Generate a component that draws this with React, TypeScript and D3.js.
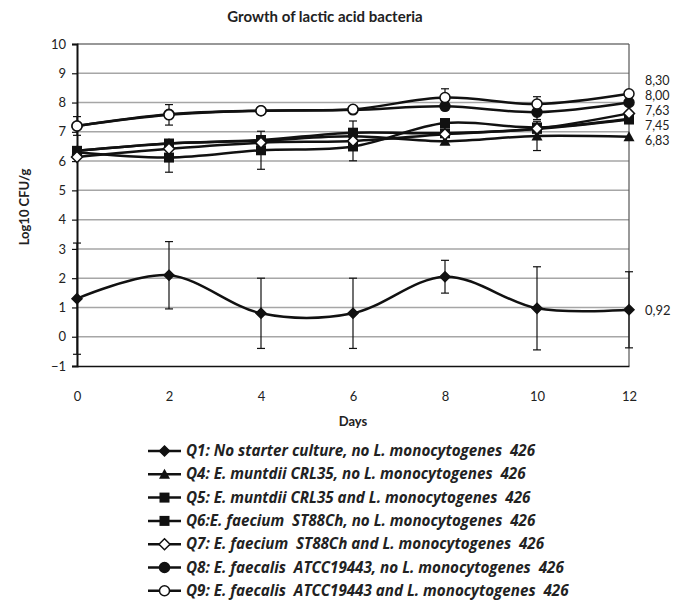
import React, { useEffect, useRef } from 'react';
import * as d3 from 'd3';

const days = [0, 2, 4, 6, 8, 10, 12];
const yTicks = [-1, 0, 1, 2, 3, 4, 5, 6, 7, 8, 9, 10];

const seriesNames = [
  'Q1: No starter culture, no L. monocytogenes  426',
  'Q4: E. muntdii CRL35, no L. monocytogenes  426',
  'Q5: E. muntdii CRL35 and L. monocytogenes  426',
  'Q6:E. faecium  ST88Ch, no L. monocytogenes  426',
  'Q7: E. faecium  ST88Ch and L. monocytogenes  426',
  'Q8: E. faecalis  ATCC19443, no L. monocytogenes  426',
  'Q9: E. faecalis  ATCC19443 and L. monocytogenes  426',
];
const seriesMarkers = ['diamond', 'triangle', 'square', 'square', 'diamondOpen', 'circle', 'circleOpen'];

const q1 = [1.3, 2.1, 0.8, 0.8, 2.05, 0.97, 0.92];
const q4 = [6.35, 6.6, 6.7, 6.85, 6.68, 6.86, 6.83];
const q5 = [6.3, 6.12, 6.37, 6.5, 7.3, 7.15, 7.45];
const q6 = [6.35, 6.6, 6.72, 6.97, 6.95, 7.1, 7.42];
const q7 = [6.14, 6.42, 6.63, 6.69, 6.92, 7.11, 7.63];
const q8 = [7.2, 7.6, 7.72, 7.75, 7.87, 7.67, 8.0];
const q9 = [7.2, 7.58, 7.72, 7.77, 8.17, 7.95, 8.3];
const seriesValues = [q1, q4, q5, q6, q7, q8, q9];

const q1Err = [1.9, 1.15, 1.2, 1.2, 0.56, 1.42, 1.3];
const q4Err = [0, 0, 0, 0, 0, 0.5, 0];
const q5Err = [0, 0.5, 0.65, 0, 0, 0, 0];
const q6Err = [0, 0, 0, 0, 0, 0, 0];
const q7Err = [0, 0, 0, 0.68, 0, 0, 0];
const q8Err = [0, 0, 0, 0, 0, 0.25, 0];
const q9Err = [0.32, 0.35, 0, 0, 0.3, 0.25, 0];
const seriesErrors = [q1Err, q4Err, q5Err, q6Err, q7Err, q8Err, q9Err];

const endLabels = ['8,30', '8,00', '7,63', '7,45', '6,83'];
const q1EndLabel = '0,92';

const FONT = 'Lato, "Open Sans", sans-serif';
const LEGEND_FONT = '"Open Sans", Lato, sans-serif';

const App = () => {
  const ref = useRef<SVGSVGElement>(null);

  useEffect(() => {
    const width = 689;
    const height = 601;
    const margin = { top: 44, left: 77, right: 60, bottom: 235 };

    const svg = d3.select(ref.current);
    svg.selectAll('*').remove();
    svg.attr('width', width).attr('height', height);

    const x = d3.scaleLinear().domain([0, 12]).range([margin.left, width - margin.right]);
    const y = d3.scaleLinear().domain([-1, 10]).range([height - margin.bottom, margin.top]);

    // title
    svg.append('text')
      .attr('x', 325)
      .attr('y', 22)
      .attr('text-anchor', 'middle')
      .attr('font-family', FONT)
      .attr('font-weight', 'bold')
      .attr('font-size', 15)
      .attr('fill', '#222')
      .text('Growth of lactic acid bacteria');

    // grid
    svg.append('g')
      .selectAll('line')
      .data(yTicks.slice(1, -1))
      .enter()
      .append('line')
      .attr('x1', x(0))
      .attr('x2', x(12))
      .attr('y1', d => y(d))
      .attr('y2', d => y(d))
      .attr('stroke', '#a6a6a6')
      .attr('stroke-width', 1.5);

    // border
    svg.append('line').attr('x1', x(0)).attr('x2', x(12)).attr('y1', y(10)).attr('y2', y(10))
      .attr('stroke', '#333').attr('stroke-width', 1.2);
    svg.append('line').attr('x1', x(12)).attr('x2', x(12)).attr('y1', y(10)).attr('y2', y(-1))
      .attr('stroke', '#555').attr('stroke-width', 1.2);

    // y axis
    const yAxis = svg.append('g')
      .attr('transform', `translate(${x(0)},0)`)
      .call(d3.axisLeft(y).tickValues(yTicks).tickSize(5).tickPadding(6).tickFormat(d3.format('d')));
    yAxis.select('.domain').attr('stroke', '#111').attr('stroke-width', 2);
    yAxis.selectAll('.tick line').attr('stroke', '#111').attr('stroke-width', 1.2);
    yAxis.selectAll('.tick text').attr('font-family', FONT).attr('font-size', 13).attr('fill', '#222');

    // x axis
    const xAxis = svg.append('g')
      .attr('transform', `translate(0,${y(-1)})`)
      .call(d3.axisBottom(x).tickValues(days).tickSize(0).tickPadding(26));
    xAxis.select('.domain').attr('stroke', '#111').attr('stroke-width', 1.5);
    xAxis.selectAll('.tick text').attr('font-family', FONT).attr('font-size', 13).attr('fill', '#222');

    // axis titles
    svg.append('text')
      .attr('transform', `translate(29,${(y(10) + y(-1)) / 2 + 2}) rotate(-90)`)
      .attr('text-anchor', 'middle')
      .attr('font-family', FONT)
      .attr('font-weight', 'bold')
      .attr('font-size', 13)
      .attr('fill', '#222')
      .text('Log10 CFU/g');
    svg.append('text')
      .attr('x', (x(0) + x(12)) / 2)
      .attr('y', 426)
      .attr('text-anchor', 'middle')
      .attr('font-family', FONT)
      .attr('font-weight', 'bold')
      .attr('font-size', 13)
      .attr('fill', '#222')
      .text('Days');

    const drawMarker = (g: any, kind: string, cx: number, cy: number) => {
      if (kind === 'diamond' || kind === 'diamondOpen') {
        const s = kind === 'diamond' ? 5 : 5.5;
        g.append('path')
          .attr('d', `M${cx},${cy - s}L${cx + s},${cy}L${cx},${cy + s}L${cx - s},${cy}Z`)
          .attr('fill', kind === 'diamond' ? '#111' : '#fff')
          .attr('stroke', '#111')
          .attr('stroke-width', 1.5);
      } else if (kind === 'triangle') {
        g.append('path')
          .attr('d', `M${cx},${cy - 5.5}L${cx + 5.5},${cy + 4.5}L${cx - 5.5},${cy + 4.5}Z`)
          .attr('fill', '#111');
      } else if (kind === 'square') {
        g.append('rect')
          .attr('x', cx - 5).attr('y', cy - 5).attr('width', 10).attr('height', 10)
          .attr('fill', '#111');
      } else {
        g.append('circle')
          .attr('cx', cx).attr('cy', cy).attr('r', 5)
          .attr('fill', kind === 'circle' ? '#111' : '#fff')
          .attr('stroke', '#111')
          .attr('stroke-width', 1.5);
      }
    };

    const line = d3.line<number>()
      .x((_, i) => x(days[i]))
      .y(d => y(d))
      .curve(d3.curveCardinal.tension(0));

    seriesValues.forEach((vals, si) => {
      const g = svg.append('g');
      // error bars
      vals.forEach((v, i) => {
        const e = seriesErrors[si][i];
        if (!e) return;
        const cx = x(days[i]);
        g.append('line').attr('x1', cx).attr('x2', cx).attr('y1', y(v + e)).attr('y2', y(v - e))
          .attr('stroke', '#111').attr('stroke-width', 1.2);
        [v + e, v - e].forEach(w => {
          g.append('line').attr('x1', cx - 4).attr('x2', cx + 4).attr('y1', y(w)).attr('y2', y(w))
            .attr('stroke', '#111').attr('stroke-width', 1.2);
        });
      });
      g.append('path')
        .attr('d', line(vals))
        .attr('fill', 'none')
        .attr('stroke', '#111')
        .attr('stroke-width', 2.5);
      vals.forEach((v, i) => drawMarker(g, seriesMarkers[si], x(days[i]), y(v)));
    });

    // end labels (stacked like the reference)
    endLabels.forEach((t, i) => {
      svg.append('text')
        .attr('x', x(12) + 16)
        .attr('y', 81 + i * 15 + 4)
        .attr('font-family', FONT)
        .attr('font-size', 12.5)
        .attr('fill', '#222')
        .text(t);
    });
    svg.append('text')
      .attr('x', x(12) + 16)
      .attr('y', y(q1[6]) + 5)
      .attr('font-family', FONT)
      .attr('font-size', 13)
      .attr('fill', '#222')
      .text(q1EndLabel);

    // legend
    const legend = svg.append('g');
    seriesNames.forEach((name, i) => {
      const ly = 451 + i * 23.3;
      legend.append('line').attr('x1', 148).attr('x2', 181).attr('y1', ly).attr('y2', ly)
        .attr('stroke', '#111').attr('stroke-width', 2.5);
      drawMarker(legend, seriesMarkers[i], 164.5, ly);
      legend.append('text')
        .attr('x', 186)
        .attr('y', ly + 5)
        .attr('font-family', LEGEND_FONT)
        .attr('font-weight', 'bold')
        .attr('font-style', 'italic')
        .attr('font-size', 15.2)
        .attr('fill', '#222')
        .style('white-space', 'pre')
        .text(name);
    });
  }, []);

  return <svg ref={ref} style={{ position: 'absolute', left: 0, top: 0 }}></svg>;
};

export default App;
